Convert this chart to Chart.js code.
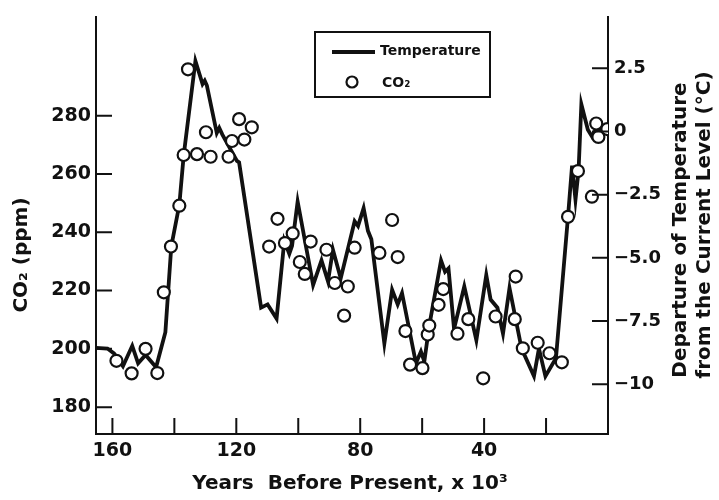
<!DOCTYPE html>
<html>
<head>
<meta charset="utf-8">
<script src="https://cdn.jsdelivr.net/npm/chart.js@4.4.1/dist/chart.umd.min.js"></script>
<style>
  html, body { margin: 0; padding: 0; background: #fff; }
  #wrap { width: 719px; height: 500px; }
</style>
</head>
<body>
<div id="wrap"><canvas id="co2Chart" width="719" height="500"></canvas></div>
<script>
// Temperature curve (thousand years BP, departure in deg C)
const tempYears = [165.4, 161.6, 159.5, 156.6, 153.6, 151.7, 149.3, 145.9, 142.9, 141.0,
    138.4, 137.0, 133.2, 130.9, 130.2, 129.5, 126.3, 125.5, 124.5, 119.8,
    119.1, 112.0, 109.9, 107.0, 104.5, 102.9, 102.0, 100.2, 95.2, 92.5,
    90.4, 88.8, 86.3, 81.8, 80.7, 78.9, 77.5, 76.4, 72.2, 69.7,
    67.9, 66.5, 62.0, 60.4, 59.3, 57.7, 53.9, 52.6, 51.5, 49.7,
    46.4, 42.5, 39.3, 37.9, 35.7, 33.9, 31.8, 29.8, 27.9, 23.9,
    22.3, 20.2, 16.8, 12.9, 11.6, 10.5, 9.5, 8.6, 6.5, 5.2, 3.6, 0.4];
const tempValues = [-8.56, -8.59, -8.78, -9.29, -8.48, -9.17, -8.84, -9.33, -7.94, -4.55,
    -2.90, -0.96, 2.79, 1.88, 2.01, 1.82, -0.06, 0.14, -0.12, -1.16,
    -1.22, -6.97, -6.84, -7.40, -4.32, -4.84, -4.52, -2.77, -6.07, -5.10,
    -5.93, -4.68, -5.81, -3.55, -3.74, -3.03, -3.93, -4.26, -8.39, -6.26,
    -6.84, -6.39, -9.17, -8.71, -9.10, -7.68, -5.10, -5.55, -5.42, -7.81,
    -6.13, -8.26, -5.68, -6.65, -6.97, -8.00, -6.19, -7.42, -8.59, -9.68,
    -8.59, -9.68, -8.97, -3.35, -1.35, -2.70, -1.54, 1.08, 0.07, -0.19, 0.14, 0.07];

// CO2 measurements (thousand years BP, ppm)
const co2Years = [158.7, 153.8, 149.3, 145.5, 143.4, 141.1, 138.4, 137.0, 135.6, 132.7,
    129.8, 128.3, 122.5, 121.4, 119.1, 117.4, 115.0, 109.4, 106.7, 104.3,
    101.8, 99.5, 97.9, 96.0, 90.9, 88.2, 85.2, 84.0, 81.8, 73.8,
    69.7, 67.9, 65.4, 63.9, 59.9, 58.2, 57.7, 54.7, 53.2, 48.6,
    45.1, 40.3, 36.3, 29.8, 30.1, 27.5, 22.7, 18.9, 14.9, 12.9,
    9.7, 5.2, 3.8, 3.1, 0.2];
const co2Values = [195.9, 191.6, 200.0, 191.7, 219.4, 235.1, 249.1, 266.5, 295.9, 266.8,
    274.3, 265.9, 265.9, 271.3, 278.8, 271.8, 276.0, 235.1, 244.6, 236.3,
    239.6, 229.8, 225.7, 236.8, 234.0, 222.6, 211.4, 221.4, 234.7, 232.9,
    244.2, 231.5, 206.1, 194.6, 193.4, 204.9, 208.0, 215.1, 220.5, 205.2,
    210.2, 189.9, 211.1, 224.8, 210.2, 200.2, 202.1, 198.5, 195.4, 245.3,
    261.0, 252.2, 277.3, 272.7, 275.4];

// Tick values
const yearTicks = [20, 40, 60, 80, 100, 120, 140, 160];
const co2Ticks = [180, 200, 220, 240, 260, 280];
const tempTicks = [-10, -7.5, -5, -2.5, 0, 2.5];
const tempTickLabels = ['\u221210', '\u22127.5', '\u22125.0', '\u22122.5', '0', '2.5'];

const FONT = "'DejaVu Sans', sans-serif";
const INK = '#111';

// tick marks drawn inward, axis titles and the boxed legend
const decor = {
    id: 'decor',
    afterDraw(chart) {
        const ctx = chart.ctx;
        const a = chart.chartArea;
        const sx = chart.scales.x, sy = chart.scales.y, sy2 = chart.scales.y2;
        ctx.save();
        ctx.strokeStyle = INK;
        ctx.lineWidth = 2;
        ctx.beginPath();
        yearTicks.forEach(v => {
            const px = sx.getPixelForValue(v);
            ctx.moveTo(px, a.bottom);
            ctx.lineTo(px, a.bottom - 16);
        });
        co2Ticks.forEach(v => {
            const py = sy.getPixelForValue(v);
            ctx.moveTo(a.left, py);
            ctx.lineTo(a.left + 16, py);
        });
        tempTicks.forEach(v => {
            const py = sy2.getPixelForValue(v);
            ctx.moveTo(a.right, py);
            ctx.lineTo(a.right - 16, py);
        });
        ctx.stroke();

        // axis titles
        ctx.fillStyle = INK;
        ctx.textAlign = 'center';
        ctx.textBaseline = 'middle';
        ctx.font = 'bold 20px ' + FONT;
        ctx.fillText('Years  Before Present, x 10\u00b3', 350, 484);

        ctx.save();
        ctx.translate(22, 255);
        ctx.rotate(-Math.PI / 2);
        ctx.fillText('CO\u2082 (ppm)', 0, 0);
        ctx.restore();

        ctx.save();
        ctx.translate(681, 230);
        ctx.rotate(-Math.PI / 2);
        ctx.fillText('Departure of Temperature', 0, 0);
        ctx.restore();

        ctx.save();
        ctx.translate(705, 225);
        ctx.rotate(-Math.PI / 2);
        ctx.fillText('from the Current Level (\u00b0C)', 0, 0);
        ctx.restore();

        // legend box
        const ds = chart.data.datasets;
        ctx.lineWidth = 2;
        ctx.strokeRect(315, 32, 175, 65);
        ctx.lineWidth = 4;
        ctx.beginPath();
        ctx.moveTo(332, 52);
        ctx.lineTo(375, 52);
        ctx.stroke();
        ctx.lineWidth = 2.2;
        ctx.beginPath();
        ctx.arc(352, 82, 5.5, 0, Math.PI * 2);
        ctx.stroke();
        ctx.textAlign = 'left';
        ctx.font = 'bold 14px ' + FONT;
        ctx.fillText(ds[1].label, 380, 51);
        ctx.fillText(ds[0].label, 382, 83);
        ctx.restore();
    }
};

const config = {
    type: 'scatter',
    data: {
        datasets: [
            {
                label: 'CO\u2082',
                data: co2Years.map((x, i) => ({ x: x, y: co2Values[i] })),
                yAxisID: 'y',
                order: 0,
                pointRadius: 6,
                pointBorderWidth: 2.2,
                pointBorderColor: INK,
                pointBackgroundColor: '#fff',
                showLine: false
            },
            {
                label: 'Temperature',
                type: 'line',
                data: tempYears.map((x, i) => ({ x: x, y: tempValues[i] })),
                yAxisID: 'y2',
                order: 1,
                borderColor: INK,
                borderWidth: 3.8,
                borderJoinStyle: 'miter',
                tension: 0,
                pointRadius: 0,
                fill: false
            }
        ]
    },
    options: {
        responsive: false,
        animation: false,
        devicePixelRatio: 1,
        layout: { padding: { top: 8, left: 0, right: 0, bottom: 0 } },
        plugins: {
            legend: { display: false },
            tooltip: { enabled: false }
        },
        scales: {
            x: {
                type: 'linear',
                reverse: true,
                min: 0,
                max: 165.3,
                afterBuildTicks: s => { s.ticks = yearTicks.map(v => ({ value: v })); },
                afterFit: s => { s.height = 66; },
                ticks: {
                    autoSkip: false,
                    maxRotation: 0,
                    padding: 6,
                    color: INK,
                    font: { family: FONT, size: 19, weight: 'bold' },
                    callback: v => (v % 40 === 0 ? String(v) : '')
                },
                grid: { display: false, drawTicks: false },
                border: { display: true, color: INK, width: 2 }
            },
            y: {
                position: 'left',
                min: 170.8,
                max: 313.9,
                afterBuildTicks: s => { s.ticks = co2Ticks.map(v => ({ value: v })); },
                afterFit: s => { s.width = 96; },
                ticks: {
                    padding: 5,
                    color: INK,
                    font: { family: FONT, size: 19, weight: 'bold' }
                },
                grid: { display: false, drawTicks: false },
                border: { display: true, color: INK, width: 2 }
            },
            y2: {
                position: 'right',
                min: -11.97,
                max: 4.54,
                afterBuildTicks: s => { s.ticks = tempTicks.map(v => ({ value: v })); },
                afterFit: s => { s.width = 111; },
                ticks: {
                    padding: 6,
                    color: INK,
                    font: { family: FONT, size: 18, weight: 'bold' },
                    callback: v => tempTickLabels[tempTicks.indexOf(v)]
                },
                grid: { display: false, drawTicks: false },
                border: { display: true, color: INK, width: 2 }
            }
        }
    },
    plugins: [decor]
};

window.onload = () => {
    const ctx = document.getElementById('co2Chart').getContext('2d');
    new Chart(ctx, config);
};
</script>
</body>
</html>
